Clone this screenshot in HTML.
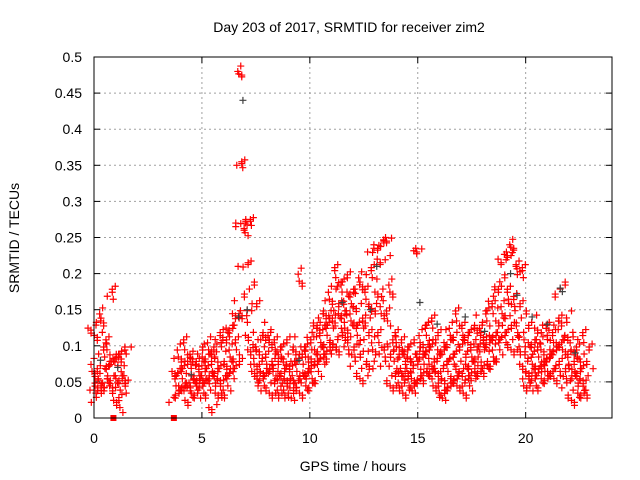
<!DOCTYPE html>
<html><head><meta charset="utf-8"><style>
body{margin:0;background:#fff;}
svg{display:block;font-family:"Liberation Sans",sans-serif;}
</style></head><body>
<svg id="chart" width="640" height="480">
<text x="349" y="32" font-size="14" text-anchor="middle">Day 203 of 2017, SRMTID for receiver zim2</text>
<text x="353" y="471" font-size="14" text-anchor="middle">GPS time / hours</text>
<text transform="translate(19,238) rotate(-90)" font-size="14" text-anchor="middle">SRMTID / TECUs</text>
<g id="grid"></g><g id="marks"></g>
<rect x="94" y="57" width="518" height="361" fill="none" stroke="#000" stroke-width="1"/>
</svg>
<script>
const xTicks=[0,5,10,15,20];
const yTicks=[0,0.05,0.1,0.15,0.2,0.25,0.3,0.35,0.4,0.45,0.5];
const yTickLabels=["0","0.05","0.1","0.15","0.2","0.25","0.3","0.35","0.4","0.45","0.5"];
const hours=[0,0.2,0.4,0.6,0.8,1.0,1.2,1.4,3.8,4.0,4.2,4.4,4.6,4.8,5.0,5.2,5.4,5.6,5.8,6.0,6.2,6.4,6.6,6.8,7.0,7.2,7.4,7.6,7.8,8.0,8.2,8.4,8.6,8.8,9.0,9.2,9.4,9.6,9.8,10.0,10.2,10.4,10.6,10.8,11.0,11.2,11.4,11.6,11.8,12.0,12.2,12.4,12.6,12.8,13.0,13.2,13.4,13.6,13.8,14.0,14.2,14.4,14.6,14.8,15.0,15.2,15.4,15.6,15.8,16.0,16.2,16.4,16.6,16.8,17.0,17.2,17.4,17.6,17.8,18.0,18.2,18.4,18.6,18.8,19.0,19.2,19.4,19.6,19.8,20.0,20.2,20.4,20.6,20.8,21.0,21.2,21.4,21.6,21.8,22.0,22.2,22.4,22.6,22.8];
const redHigh=[.13,.12,.14,.10,.17,.08,.09,.09,.07,.09,.10,.08,.07,.09,.08,.09,.10,.09,.11,.10,.12,.13,.15,.48,.26,.27,.15,.11,.10,.12,.11,.10,.09,.10,.09,.08,.10,.195,.09,.10,.12,.14,.13,.15,.17,.20,.18,.19,.17,.18,.16,.19,.17,.20,.23,.24,.22,.25,.18,.11,.10,.09,.10,.09,.235,.11,.12,.13,.11,.09,.10,.11,.12,.14,.12,.11,.12,.11,.13,.12,.14,.15,.17,.19,.22,.23,.24,.21,.20,.12,.10,.11,.13,.10,.12,.11,.13,.18,.14,.12,.10,.09,.11,.09];
const redMid=[.07,.06,.09,.07,.08,.05,.06,.06,.05,.06,.07,.05,.05,.06,.06,.06,.07,.06,.07,.06,.08,.09,.10,.35,.21,.18,.10,.08,.07,.08,.07,.07,.06,.07,.06,.06,.07,.08,.06,.07,.09,.10,.11,.12,.13,.15,.14,.15,.13,.14,.12,.13,.11,.14,.16,.18,.15,.14,.10,.08,.07,.07,.07,.06,.08,.08,.09,.10,.08,.07,.06,.07,.08,.09,.08,.07,.08,.09,.09,.10,.10,.11,.12,.14,.15,.17,.16,.15,.14,.08,.07,.08,.09,.07,.08,.09,.10,.11,.10,.08,.07,.06,.07,.06];
const redLow=[.04,.03,.05,.05,.06,.03,.02,.04,.03,.04,.05,.03,.04,.04,.04,.05,.04,.02,.04,.04,.05,.06,.07,.27,.15,.12,.07,.05,.05,.06,.05,.04,.04,.04,.04,.03,.05,.05,.04,.05,.06,.07,.08,.09,.09,.11,.10,.12,.10,.09,.08,.07,.06,.08,.10,.11,.09,.08,.06,.05,.05,.04,.05,.04,.05,.06,.06,.07,.05,.04,.03,.04,.05,.06,.05,.04,.05,.06,.06,.07,.07,.08,.09,.10,.11,.12,.11,.10,.10,.05,.05,.05,.06,.05,.06,.07,.06,.07,.06,.05,.04,.03,.04,.04];
const grayHours=[0.3,1.1,4.5,6.7,6.9,7.1,9.5,11.5,12.8,13.1,15.1,15.9,17.2,18.1,19.3,19.6,20.3,21.0,21.6,21.7,22.3];
const grayVals=[.08,.07,.06,.14,.44,.15,.08,.16,.15,.21,.16,.13,.14,.12,.20,.17,.14,.13,.18,.175,.09];
const zeroHours=[0.9,3.7];
const zeroVals=[0,0];

const X0=94,X1=612,Y0=418,Y1=57,XMAX=24,YMAX=0.5;
const sx=v=>X0+(X1-X0)*v/XMAX, sy=v=>Y0-(Y0-Y1)*v/YMAX;
const NS="http://www.w3.org/2000/svg";
const svg=document.getElementById('chart'),grid=document.getElementById('grid'),marks=document.getElementById('marks');
function mk(t,a,p){const e=document.createElementNS(NS,t);for(const k in a)e.setAttribute(k,a[k]);(p||svg).appendChild(e);return e;}
xTicks.forEach(v=>{const x=sx(v);
 if(v>0){const g=mk('line',{x1:x,x2:x,y1:Y1,y2:Y0,stroke:'#a0a0a0','stroke-dasharray':'2,3'},grid);
 
 }
 mk('line',{x1:x,x2:x,y1:Y0,y2:Y0-6,stroke:'#000'},grid);mk('line',{x1:x,x2:x,y1:Y1,y2:Y1+6,stroke:'#000'},grid);
 const t=mk('text',{x:x,y:443,'font-size':14,'text-anchor':'middle'});t.textContent=v;
 
 });
yTicks.forEach((v,i)=>{const y=sy(v);
 if(v>0&&v<YMAX){const g=mk('line',{x1:X0,x2:X1,y1:y,y2:y,stroke:'#a0a0a0','stroke-dasharray':'2,3'},grid);
 
 }
 mk('line',{x1:X0,x2:X0+6,y1:y,y2:y,stroke:'#000'},grid);mk('line',{x1:X1,x2:X1-6,y1:y,y2:y,stroke:'#000'},grid);
 const t=mk('text',{x:82,y:y+5,'font-size':14,'text-anchor':'end'});t.textContent=yTickLabels[i];
 
 });
function plus(h,v,c,name,dx,dy){const x=sx(h)+(dx||0),y=sy(v)+(dy||0);
 const p=mk('path',{d:`M${x-3.5} ${y}h7M${x} ${y-3.5}v7`,stroke:c,'stroke-width':1.2,fill:'none'},marks);
 
 }
// fixed pixel scatter pattern for mark clustering (styling only)
const jx=[-2,3,-1,1,-3,2,0];
const jy=[4,-6,9,-3,6,-9,1];
[redHigh,redMid,redLow].forEach((ser,si)=>{hours.forEach((h,i)=>{
 for(let k=0;k<5;k++){const q=(i*5+si*3+k*2)%7;
  const dy=(ser[i]>0.2&&k===0)?0:jy[q]*(ser[i]>0.2?0.6:1);
  plus(h,ser[i],'#ff0000','red-point',jx[q]+(k-2)*2,dy);}
});});
grayHours.forEach((h,i)=>plus(h,grayVals[i],'#404040','gray-point',0,0));
zeroHours.forEach((h,i)=>{const r=mk('rect',{x:sx(h)-3,y:sy(zeroVals[i])-3,width:6,height:6,fill:'#ff0000'},marks);
 
 });
</script>
</body></html>
